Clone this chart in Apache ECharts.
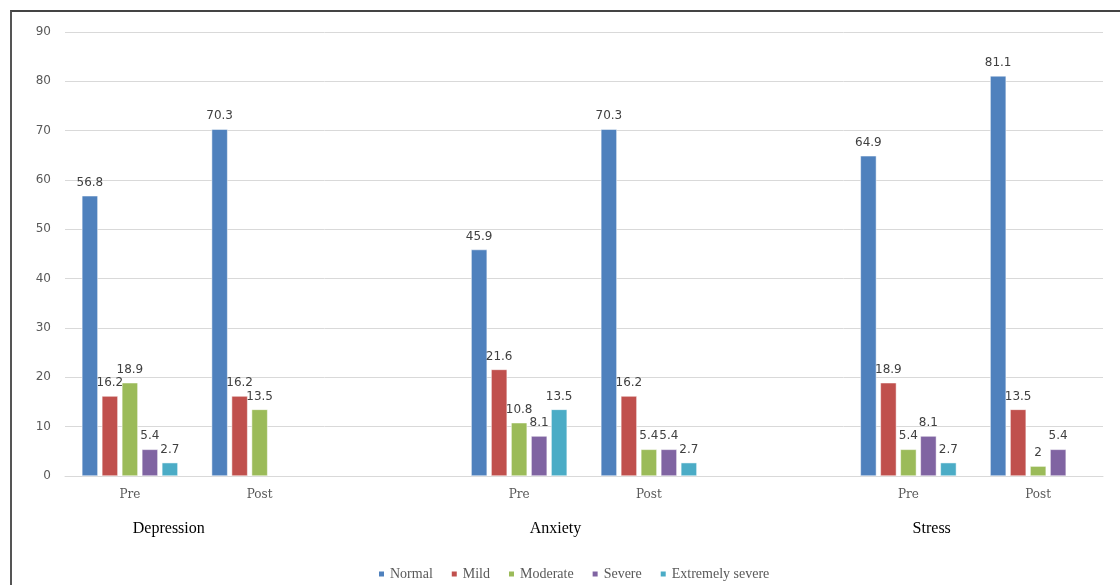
<!DOCTYPE html>
<html>
<head>
<meta charset="utf-8">
<script src="https://cdn.jsdelivr.net/npm/echarts@6/dist/echarts.min.js"></script>
<style>
  html, body { margin: 0; padding: 0; background: #fff; }
  #frame { position: absolute; left: 10px; top: 10px; width: 1120px; height: 585px;
           border-left: 2px solid #555; border-top: 2px solid #444; box-sizing: border-box; }
  #chart { position: absolute; left: 0; top: 0; width: 1120px; height: 585px; }
</style>
</head>
<body>
<div id="frame"></div>
<div id="chart"></div>
<script>
// Time points, with empty slots separating the three scales
const categories = ['Pre', 'Post', '', 'Pre', 'Post', '', 'Pre', 'Post'];
const groupNames = ['Depression', 'Anxiety', 'Stress'];
const yTicks = [0, 10, 20, 30, 40, 50, 60, 70, 80, 90];

// Percentage of participants per severity level
const normal   = [56.8, 70.3, null, 45.9, 70.3, null, 64.9, 81.1];
const mild     = [16.2, 16.2, null, 21.6, 16.2, null, 18.9, 13.5];
const moderate = [18.9, 13.5, null, 10.8, 5.4, null, 5.4, 2];
const severe   = [5.4, null, null, 8.1, 5.4, null, 8.1, 5.4];
const extreme  = [2.7, null, null, 13.5, 2.7, null, 2.7, null];

const seriesDefs = [
  { name: 'Normal', data: normal, color: '#4F81BD' },
  { name: 'Mild', data: mild, color: '#C0504D' },
  { name: 'Moderate', data: moderate, color: '#9BBB59' },
  { name: 'Severe', data: severe, color: '#8064A2' },
  { name: 'Extremely severe', data: extreme, color: '#4BACC6' }
];

const chart = echarts.init(document.getElementById('chart'));

const gridLeft = 65, gridRight = 17;
const plotW = 1120 - gridLeft - gridRight;
const slot = plotW / categories.length;
// Group captions sit under their Pre/Post pair (centre, in category-slot units)
const groupSlots = [0.80, 3.78, 6.68];

chart.setOption({
  animation: false,
  grid: { left: gridLeft, right: gridRight, top: 32, bottom: 109 },
  legend: {
    top: 562,
    left: 372,
    itemWidth: 7,
    itemHeight: 7,
    itemGap: 17,
    icon: 'rect',
    textStyle: { fontFamily: 'Liberation Serif', fontSize: 14, color: '#595959' },
    data: seriesDefs.map(s => s.name)
  },
  xAxis: {
    type: 'category',
    data: categories,
    axisLine: { lineStyle: { color: '#d9d9d9' } },
    axisTick: { show: false },
    axisLabel: { interval: 0, margin: 13, fontFamily: 'DejaVu Serif', fontSize: 12, color: '#595959' }
  },
  yAxis: {
    type: 'value',
    min: yTicks[0],
    max: yTicks[yTicks.length - 1],
    interval: 10,
    axisLine: { show: false },
    axisTick: { show: false },
    axisLabel: { margin: 14, fontFamily: 'DejaVu Sans', fontSize: 12, color: '#595959' },
    splitLine: { lineStyle: { color: '#d9d9d9' } }
  },
  series: seriesDefs.map(s => ({
    name: s.name,
    type: 'bar',
    data: s.data,
    barWidth: 16,
    barGap: '25%',
    itemStyle: { color: s.color, borderColor: '#fff', borderWidth: 0.5 },
    label: {
      show: true,
      position: 'top',
      distance: 7,
      fontFamily: 'DejaVu Sans',
      fontSize: 12,
      color: '#404040'
    }
  })),
  graphic: groupNames.map((g, i) => ({
    type: 'text',
    x: gridLeft + slot * groupSlots[i],
    y: 529,
    style: {
      text: g,
      align: 'center',
      verticalAlign: 'middle',
      fontFamily: 'Liberation Serif',
      fontSize: 16,
      fill: '#000'
    }
  }))
});
</script>
</body>
</html>
